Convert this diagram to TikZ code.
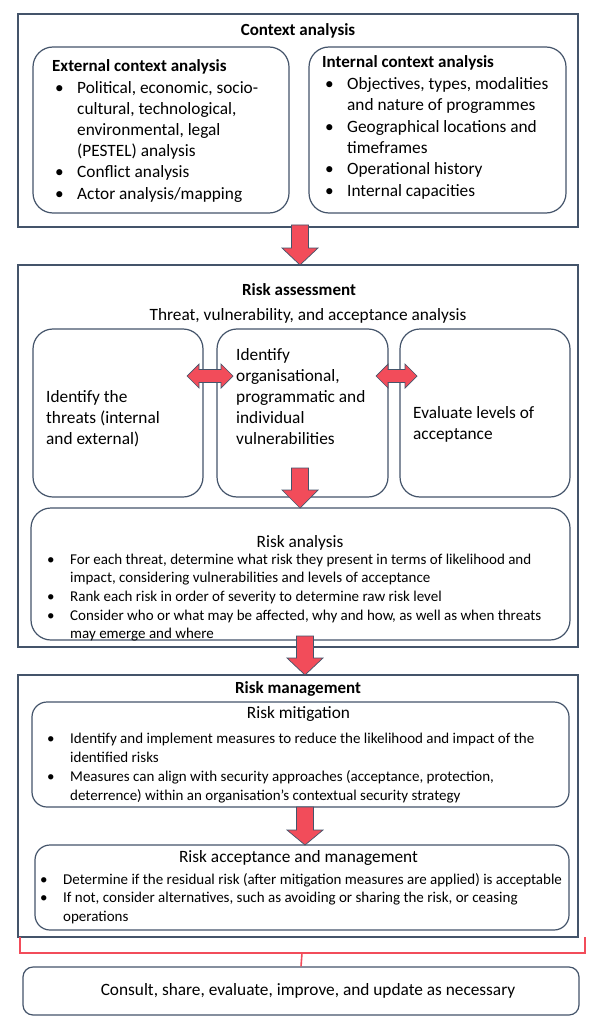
\documentclass[tikz,border=0pt]{standalone}
\usepackage{fontspec}
\setmainfont{Carlito}
\usetikzlibrary{calc}
\definecolor{frameblue}{RGB}{68,84,106}
\definecolor{arrowred}{RGB}{242,76,90}

\newcommand{\bl}{\textbullet}
% down block arrow: centre x, top, neck, tip
\newcommand{\downblock}[4]{%
  \filldraw[blockarrow] (#1-8.5,#2) -- (#1+8.5,#2) -- (#1+8.5,#3) -- (#1+18,#3)
    -- (#1,#4) -- (#1-18,#3) -- (#1-8.5,#3) -- cycle;}
% two-headed side arrow: left tip, right tip, centre y
\newcommand{\sideblock}[3]{%
  \filldraw[blockarrow] (#1,#3) -- (#1+12,#3-12) -- (#1+12,#3-6.5) -- (#2-12,#3-6.5)
    -- (#2-12,#3-12) -- (#2,#3) -- (#2-12,#3+12) -- (#2-12,#3+6.5)
    -- (#1+12,#3+6.5) -- (#1+12,#3+12) -- cycle;}

\begin{document}
\begin{tikzpicture}[x=1pt, y=-1pt,
  frame/.style={draw=frameblue, line width=1.2pt},
  roundbox/.style={frame, rounded corners=20pt},
  smallbox/.style={frame, rounded corners=15pt},
  blockarrow/.style={fill=arrowred, draw=frameblue, line width=0.7pt},
  title/.style={anchor=base, inner sep=0pt, font=\fontsize{17}{20}\selectfont\bfseries},
  txt/.style={anchor=base, inner sep=0pt, font=\fontsize{17.3}{20}\selectfont},
  list/.style={anchor=base west, inner sep=0pt},
  bracket/.style={draw=arrowred, line width=1.6pt}]
  \useasboundingbox[fill=white] (0,0) rectangle (598,1024);

  % Context analysis
  \draw[frame] (18,14) rectangle (578,227);
  \node[title] (ctxtitle) at (298,36) {Context analysis};
  \draw[roundbox] (33,47) rectangle (289,213);
  \node[list] (external) at (52,72) {\fontsize{17.3}{21.2}\selectfont
    \begin{tabular}[t]{@{}p{25pt}@{}l@{}}
      \multicolumn{2}{@{}l@{}}{\fontsize{17}{21.2}\selectfont\textbf{External context analysis}}\\
      \hspace{3pt}\bl & Political, economic, socio-\\
      & cultural, technological,\\
      & environmental, legal\\
      & (PESTEL) analysis\\
      \hspace{3pt}\bl & Conflict analysis\\
      \hspace{3pt}\bl & Actor analysis/mapping
    \end{tabular}};
  \draw[roundbox] (309,47) rectangle (566,213);
  \node[list] (internal) at (322,68) {\fontsize{17.3}{21.4}\selectfont
    \begin{tabular}[t]{@{}p{25pt}@{}l@{}}
      \multicolumn{2}{@{}l@{}}{\fontsize{17}{21.4}\selectfont\textbf{Internal context analysis}}\\
      \hspace{3pt}\bl & Objectives, types, modalities\\
      & and nature of programmes\\
      \hspace{3pt}\bl & Geographical locations and\\
      & timeframes\\
      \hspace{3pt}\bl & Operational history\\
      \hspace{3pt}\bl & Internal capacities
    \end{tabular}};

  \downblock{300}{225}{248}{265}

  % Risk assessment
  \draw[frame] (18,265) rectangle (578,647);
  \node[title] (asstitle) at (299,295) {Risk assessment};
  \node[txt] (asssub) at (308,320) {Threat, vulnerability, and acceptance analysis};
  \draw[roundbox] (33,329) rectangle (203,497);
  \draw[roundbox] (217,329) rectangle (388,497);
  \draw[roundbox] (400,329) rectangle (570,497);
  \node[list] (threats) at (46,402) {\fontsize{17.3}{21}\selectfont
    \begin{tabular}[t]{@{}l@{}}
      Identify the\\ threats (internal\\ and external)
    \end{tabular}};
  \node[list] (vulner) at (236,360) {\fontsize{17.3}{21.2}\selectfont
    \begin{tabular}[t]{@{}l@{}}
      Identify\\ organisational,\\ programmatic and\\ individual\\ vulnerabilities
    \end{tabular}};
  \node[list] (accept) at (413,418) {\fontsize{17.3}{21}\selectfont
    \begin{tabular}[t]{@{}l@{}}
      Evaluate levels of\\ acceptance
    \end{tabular}};
  \foreach \xa/\xb in {187/233, 376/417}{
    \sideblock{\xa}{\xb}{376}
  }

  \draw[roundbox] (31,508) rectangle (570,640);
  \downblock{300}{468}{490}{508}
  \node[txt] (analysistitle) at (300,547) {Risk analysis};
  \node[list] (analysis) at (47,564) {\fontsize{15}{18.7}\selectfont
    \begin{tabular}[t]{@{}p{23pt}@{}l@{}}
      \bl & For each threat, determine what risk they present in terms of likelihood and\\
      & impact, considering vulnerabilities and levels of acceptance\\
      \bl & Rank each risk in order of severity to determine raw risk level\\
      \bl & Consider who or what may be affected, why and how, as well as when threats\\
      & may emerge and where
    \end{tabular}};

  \downblock{305}{636}{658}{675}

  % Risk management
  \draw[frame] (18,675) rectangle (578,937);
  \node[title] (mgmttitle) at (298,693) {Risk management};
  \draw[smallbox] (32,702) rectangle (569,807);
  \node[txt] (mitigtitle) at (298.5,718) {Risk mitigation};
  \node[list] (mitig) at (47,743) {\fontsize{15}{19.3}\selectfont
    \begin{tabular}[t]{@{}p{23pt}@{}l@{}}
      \bl & Identify and implement measures to reduce the likelihood and impact of the\\
      & identified risks\\
      \bl & Measures can align with security approaches (acceptance, protection,\\
      & deterrence) within an organisation’s contextual security strategy
    \end{tabular}};

  \downblock{305}{807}{830}{845}

  \draw[smallbox] (35,845) rectangle (569,930);
  \node[txt] (acctitle) at (298.5,862) {Risk acceptance and management};
  \node[list] (acc) at (40,884) {\fontsize{15}{18.5}\selectfont
    \begin{tabular}[t]{@{}p{23pt}@{}l@{}}
      \bl & Determine if the residual risk (after mitigation measures are applied) is acceptable\\
      \bl & If not, consider alternatives, such as avoiding or sharing the risk, or ceasing\\
      & operations
    \end{tabular}};

  % Consult and update
  \node[frame, rounded corners=10pt, minimum width=556, minimum height=48,
    font=\fontsize{17.3}{20}\selectfont] (consult) at (301,991)
    {\hspace{14pt}Consult, share, evaluate, improve, and update as necessary};
  \coordinate (brk) at (302,953);
  \draw[bracket] (20,937) -- (20,953) -- (585,953) -- (585,937);
  \draw[bracket] (brk) -- (consult.north);
\end{tikzpicture}
\end{document}
